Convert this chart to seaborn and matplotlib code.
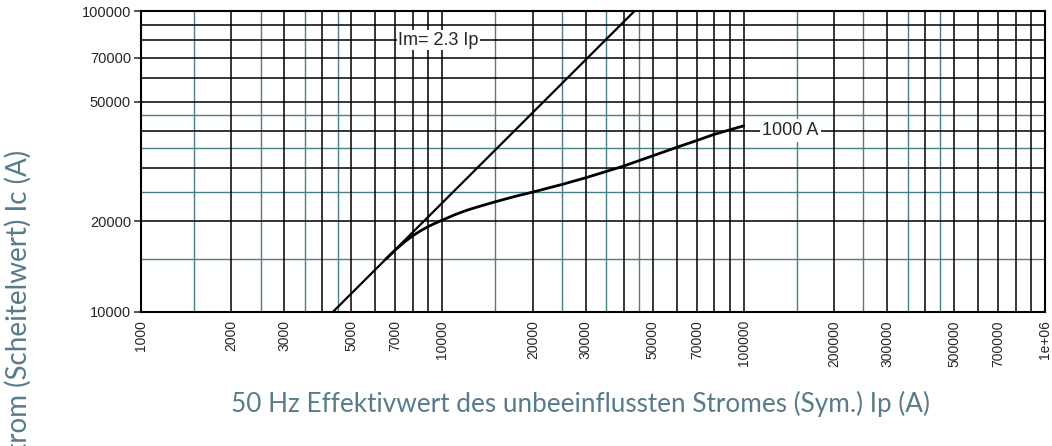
import matplotlib
matplotlib.use("Agg")
import matplotlib.pyplot as plt
from matplotlib.ticker import FixedLocator, FuncFormatter, NullLocator
import pandas as pd
import seaborn as sns

# Data
line_ip = [4350, 43500]          # Im = 2.3 Ip
line_im = [10000, 100000]

curve_ip = [6500, 7000, 7500, 8000, 8500, 9000, 9500, 10000, 11000, 12000,
            13000, 15000, 17500, 20000, 25000, 30000, 40000, 50000, 60000,
            70000, 80000, 100000]
curve_ic = [14950, 16050, 17050, 17900, 18600, 19200, 19700, 20150, 21000, 21700,
            22250, 23200, 24200, 25000, 26500, 27900, 30500, 33000, 35200,
            37100, 38900, 41500]

x_labels = [1000, 2000, 3000, 5000, 7000, 10000, 20000, 30000, 50000, 70000,
            100000, 200000, 300000, 500000, 700000, 1000000]
y_labels = [10000, 20000, 50000, 70000, 100000]

# grid lines (black = integer multiples, teal = half steps)
x_black = [m * d for d in (1000, 10000, 100000) for m in range(2, 10)] + [10000, 100000]
x_teal = [m * d for d in (1000, 10000, 100000) for m in (1.5, 2.5, 3.5, 4.5)]
y_black = [m * 10000 for m in range(2, 10)]
y_teal = [15000, 25000, 35000, 45000]

teal = "#4a7f88"
label_col = "#587b8a"

sns.set_style("white")
plt.rcParams["font.family"] = ["Liberation Sans", "DejaVu Sans"]

fig = plt.figure(figsize=(10.52, 4.46), dpi=100)
ax = fig.add_axes([0.1337, 0.3011, 0.8596, 0.6742])

for v in x_teal:
    ax.axvline(v, color=teal, lw=1.0, zorder=1)
for v in y_teal:
    ax.axhline(v, color=teal, lw=1.0, zorder=1)
for v in x_black:
    ax.axvline(v, color="black", lw=1.1, zorder=2)
for v in y_black:
    ax.axhline(v, color="black", lw=1.1, zorder=2)

df_line = pd.DataFrame({"ip": line_ip, "ic": line_im})
df_curve = pd.DataFrame({"ip": curve_ip, "ic": curve_ic})
sns.lineplot(data=df_line, x="ip", y="ic", ax=ax, color="black", lw=1.6, zorder=5)
sns.lineplot(data=df_curve, x="ip", y="ic", ax=ax, color="black", lw=2.0, zorder=5)

ax.set_xscale("log")
ax.set_yscale("log")
ax.set_xlim(1000, 1000000)
ax.set_ylim(10000, 100000)

ax.xaxis.set_major_locator(FixedLocator(x_labels))
ax.xaxis.set_minor_locator(NullLocator())
ax.yaxis.set_major_locator(FixedLocator(y_labels))
ax.yaxis.set_minor_locator(NullLocator())
ax.xaxis.set_major_formatter(FuncFormatter(
    lambda v, p: "1e+06" if int(round(v)) == 1000000 else str(int(round(v)))))
ax.yaxis.set_major_formatter(FuncFormatter(lambda v, p: str(int(round(v)))))
ax.grid(False)

ax.tick_params(axis="x", length=0, labelsize=10, rotation=90, pad=6)
ax.tick_params(axis="y", length=5, width=1.1, labelsize=10.5, pad=2, left=True)

for s in ax.spines.values():
    s.set_visible(True)
    s.set_color("black")
    s.set_linewidth(1.5)
    s.set_zorder(6)

ax.set_xlabel("")
ax.set_ylabel("")

ax.text(7150, 80000, "Im= 2.3 Ip", fontsize=13, ha="left", va="center", zorder=7,
        bbox=dict(facecolor="white", edgecolor="none", pad=1.0))
ax.text(115500, 40000, "1000 A", fontsize=13, ha="left", va="center", zorder=7,
        bbox=dict(facecolor="white", edgecolor="none", pad=2.0))

fig.text(0.552, 0.094, "50 Hz Effektivwert des unbeeinflussten Stromes (Sym.) Ip (A)",
         fontsize=18.8, color=label_col, ha="center", va="center",
         family=["Lato", "DejaVu Sans"])
fig.text(0.017, 1 - 150 / 446, "Durchlassstrom (Scheitelwert) Ic (A)",
         fontsize=20, color=label_col, ha="center", va="top", rotation=90,
         family=["Lato", "DejaVu Sans"])

fig.savefig("out.png", dpi=100)
